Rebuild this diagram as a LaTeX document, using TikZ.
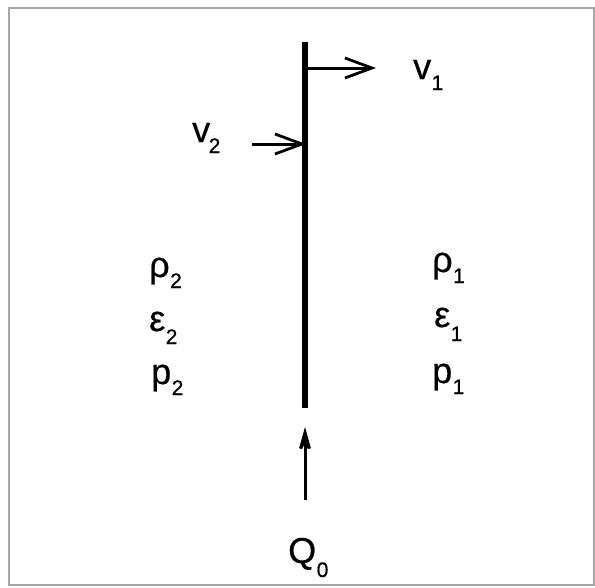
\documentclass[tikz,border=0pt]{standalone}
\usepackage{fontspec}
\setmainfont{Liberation Sans}
\newfontfamily\lblfont{Liberation Sans}[FakeBold=0.6]
\usetikzlibrary{arrows.meta}
\newcommand{\lowsub}[2][11pt]{\kern0.5pt\raisebox{-#1}{\fontsize{21}{24}\selectfont #2}}
\begin{document}
\begin{tikzpicture}[x=1pt,y=-1pt,
  lbl/.style={inner sep=0pt,anchor=base west,font=\lblfont\fontsize{36}{40}\selectfont},
  vec/.style={line width=3pt,-{Straight Barb[length=27pt,width=20pt,line width=2.8pt]}},
  qvec/.style={line width=3pt,-{Stealth[length=36pt,width=20pt,inset=20pt]}},
  frame/.style={draw=gray!70,line width=1.6pt}]
\useasboundingbox (0,0) rectangle (595,587);
\draw[frame] (9,8) rectangle (594,585);
% interface
\coordinate (top) at (305,42);
\coordinate (bot) at (305,408);
\draw[line width=6pt] (top) -- (bot);
% v1
\coordinate (a1) at (305,68);
\coordinate (b1) at (376,68);
\draw[vec] (a1) -- (b1);
\node[lbl] (v1) at (413,79) {v\lowsub{1}};
% v2
\coordinate (a2) at (252,144);
\coordinate (b2) at (306,144);
\draw[vec] (a2) -- (b2);
\node[lbl] (v2) at (192,142) {v\kern-2pt\lowsub{2}};
% left states
\node[lbl] (r2) at (149,277) {ρ\lowsub{2}};
\node[lbl] (e2) at (149,331) {ε\lowsub[13pt]{2}};
\node[lbl] (p2) at (151,384) {p\lowsub{2}};
% right states
\node[lbl] (r1) at (432,272) {ρ\lowsub{1}};
\node[lbl] (e1) at (434,327) {ε\lowsub[14pt]{1}};
\node[lbl] (p1) at (432,383) {p\lowsub{1}};
% Q0
\node[lbl] (q) at (288,563) {Q\lowsub[14pt]{0}};
\coordinate (qa) at (305,500);
\coordinate (qb) at (305,427);
\draw[qvec] (qa) -- (qb);
\end{tikzpicture}
\end{document}
